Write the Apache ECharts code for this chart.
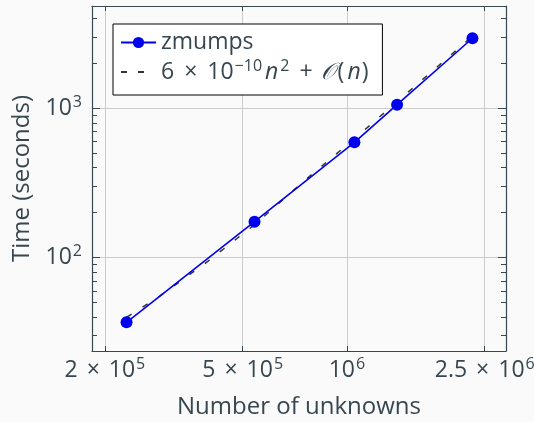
<!DOCTYPE html>
<html>
<head>
<meta charset="utf-8">
<script src="https://cdn.jsdelivr.net/npm/echarts@6/dist/echarts.min.js"></script>
<style>
  html, body { margin: 0; padding: 0; background: #fafafa; }
  #chart { width: 534px; height: 422px; }
</style>
</head>
<body>
<div id="chart"></div>
<script>
// data
const unknowns = [2.31e5, 5.41e5, 1.051e6, 1.396e6, 2.304e6]
const zmumps = [36.9, 174, 592, 1057, 2944]

// reference curve 6e-10 n^2 + O(n), read at a few n
const fitN = [2.31e5, 2.887e5, 3.947e5, 5.41e5, 7.33e5, 1.051e6, 1.396e6, 2.304e6]
const fitTime = [39.8, 55.4, 93.6, 166, 310, 625, 1107, 3034]

// axes
const xMin = 1.836e5
const xMax = 2.88e6
const yMin = 23.7
const yMax = 4840
const xTicks = [2e5, 5e5, 1e6, 2.5e6]
const xTickText = ['2 × 10^5', '5 × 10^5', '10^6', '2.5 × 10^6']
const yTicks = [100, 1000]
const yTickText = ['10^2', '10^3']
const yMinorTicks = [30, 40, 50, 60, 70, 80, 90, 200, 300, 400, 500, 600, 700, 800, 900, 2000, 3000, 4000]

const textColor = '#37474f'
const font = 'Open Sans'

// '2 × 10^5' -> rich text with a spaced times sign and a superscript
const toRich = (s) => {
  const parts = s.split('^')
  let out = '{b|' + parts[0].replace(' × ', '}{x|×}{b|') + '}'
  if (parts.length > 1) out += '{s|' + parts[1] + '}'
  return out
}
const pick = (ticks, texts) => (v) => {
  for (let i = 0; i < ticks.length; i++) {
    if (Math.abs(v / ticks[i] - 1) < 1e-6) return toRich(texts[i])
  }
  return ''
}

const labelRich = {
  b: { fontFamily: font, fontSize: 23, color: textColor, lineHeight: 26 },
  x: { fontFamily: font, fontSize: 23, color: textColor, lineHeight: 26, padding: [0, 9, 0, 9] },
  s: { fontFamily: font, fontSize: 16, color: textColor, lineHeight: 16, padding: [0, 0, 12, 1] }
}

const fitLabel = '{t|6}{x|×}{t|10}{s|−10}{i|n}{s|2}{p|+}{c|𝒪}{t|(}{i|n}{t|)}'

const chart = echarts.init(document.getElementById('chart'))

const axisLine = { show: true, lineStyle: { color: textColor, width: 1.2 } }

chart.setOption({
  backgroundColor: '#fafafa',
  animation: false,
  grid: { left: 92, right: 28, top: 6, bottom: 71, containLabel: false, outerBoundsMode: 'none' },
  legend: {
    orient: 'vertical',
    left: 113,
    top: 24,
    backgroundColor: '#ffffff',
    borderColor: '#000000',
    borderWidth: 1,
    borderRadius: 0,
    padding: [7, 14, 9, 7],
    itemWidth: 35,
    itemHeight: 14,
    itemGap: 4,
    data: [
      { name: 'zmumps' },
      { name: 'fit', lineStyle: { type: [6, 11, 6, 40] }, itemStyle: { opacity: 0 } }
    ],
    formatter: (name) => name === 'zmumps' ? '{t|zmumps}' : fitLabel,
    textStyle: {
      color: textColor,
      rich: {
        t: { fontFamily: font, fontSize: 23, color: textColor, lineHeight: 26 },
        x: { fontFamily: font, fontSize: 23, color: textColor, lineHeight: 26, padding: [0, 10, 0, 10] },
        p: { fontFamily: font, fontSize: 23, color: textColor, lineHeight: 26, padding: [0, 8, 0, 10] },
        i: { fontFamily: font, fontSize: 23, fontStyle: 'italic', color: textColor, lineHeight: 26, padding: [0, 1, 0, 3] },
        c: { fontFamily: font, fontSize: 23, fontStyle: 'italic', color: textColor, lineHeight: 26, padding: [0, 3, 0, 0] },
        s: { fontFamily: font, fontSize: 16, color: textColor, lineHeight: 16, padding: [0, 0, 12, 1] }
      }
    }
  },
  xAxis: [
    {
      type: 'log',
      position: 'bottom',
      min: xMin,
      max: xMax,
      name: 'Number of unknowns',
      nameLocation: 'middle',
      nameGap: 44,
      nameTextStyle: { fontFamily: font, fontSize: 24, color: textColor },
      axisLine: axisLine,
      axisTick: { inside: true, length: 5, lineStyle: { color: textColor }, customValues: xTicks },
      axisLabel: { margin: 6, customValues: xTicks, formatter: pick(xTicks, xTickText), rich: labelRich },
      splitLine: { show: true, lineStyle: { color: '#cccccc', width: 1 } }
    },
    {
      type: 'log',
      position: 'top',
      min: xMin,
      max: xMax,
      axisLine: axisLine,
      axisTick: { inside: true, length: 5, lineStyle: { color: textColor }, customValues: xTicks },
      axisLabel: { show: false },
      splitLine: { show: false }
    }
  ],
  yAxis: [
    {
      type: 'log',
      position: 'left',
      min: yMin,
      max: yMax,
      name: 'Time (seconds)',
      nameLocation: 'middle',
      nameGap: 58,
      nameTextStyle: { fontFamily: font, fontSize: 24, color: textColor },
      axisLine: axisLine,
      axisTick: { inside: true, length: 8, lineStyle: { color: textColor }, customValues: yTicks },
      axisLabel: { margin: 10, customValues: yTicks, formatter: pick(yTicks, yTickText), rich: labelRich },
      splitLine: { show: true, lineStyle: { color: '#cccccc', width: 1 } }
    },
    {
      type: 'log',
      position: 'left',
      min: yMin,
      max: yMax,
      axisLine: { show: false },
      axisTick: { inside: true, length: 5, lineStyle: { color: textColor }, customValues: yMinorTicks },
      axisLabel: { show: false },
      splitLine: { show: false }
    },
    {
      type: 'log',
      position: 'right',
      min: yMin,
      max: yMax,
      axisLine: axisLine,
      axisTick: { inside: true, length: 8, lineStyle: { color: textColor }, customValues: yTicks },
      axisLabel: { show: false },
      splitLine: { show: false }
    },
    {
      type: 'log',
      position: 'right',
      min: yMin,
      max: yMax,
      axisLine: { show: false },
      axisTick: { inside: true, length: 5, lineStyle: { color: textColor }, customValues: yMinorTicks },
      axisLabel: { show: false },
      splitLine: { show: false }
    }
  ],
  series: [
    {
      name: 'fit',
      type: 'line',
      data: fitN.map((n, i) => [n, fitTime[i]]),
      showSymbol: false,
      symbol: 'none',
      lineStyle: { color: '#333333', width: 1.5, type: [6, 13] },
      itemStyle: { color: '#333333' },
      z: 2
    },
    {
      name: 'zmumps',
      type: 'line',
      data: unknowns.map((n, i) => [n, zmumps[i]]),
      symbol: 'circle',
      symbolSize: 12,
      lineStyle: { color: '#0000f0', width: 1.6 },
      itemStyle: { color: '#0000f0' },
      z: 3
    }
  ]
})
</script>
</body>
</html>
